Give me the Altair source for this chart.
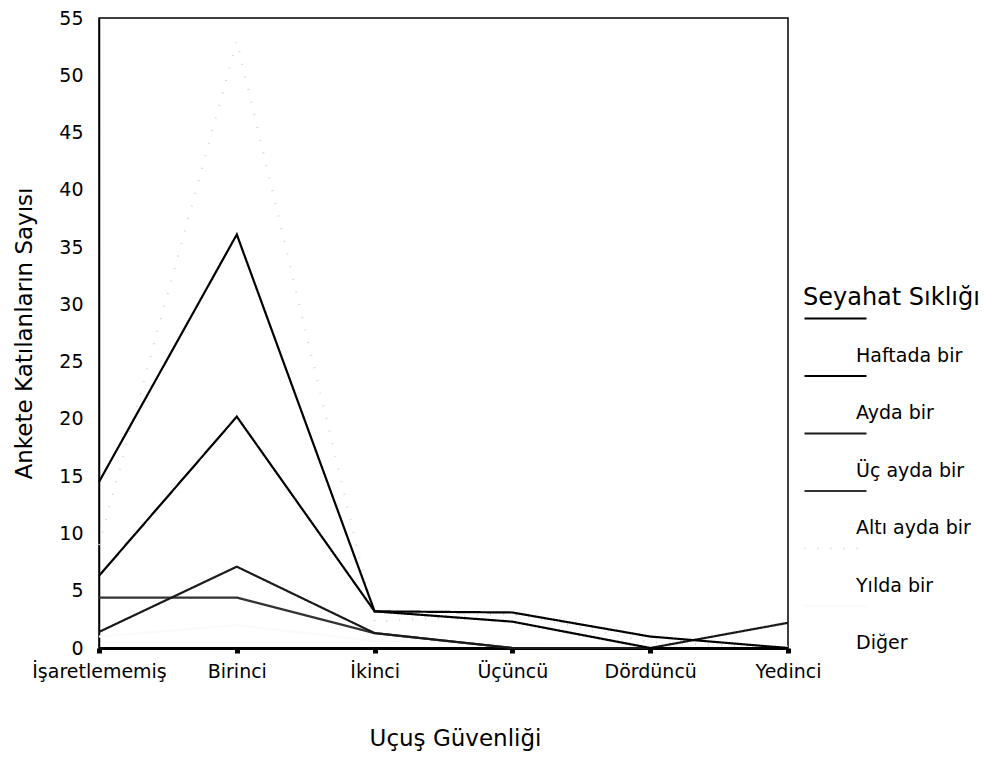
import altair as alt
import pandas as pd

categories = ["İşaretlememiş", "Birinci", "İkinci", "Üçüncü", "Dördüncü", "Yedinci"]
series_names = ["Haftada bir", "Ayda bir", "Üç ayda bir", "Altı ayda bir", "Yılda bir", "Diğer"]

haftada_bir = [6.3, 20.2, 3.2, 2.3, 0.0, 0.0]
ayda_bir = [14.5, 36.1, 3.2, 3.1, 1.0, 0.0]
uc_ayda_bir = [1.4, 7.1, 1.3, 0.0, 0.0, 2.2]
alti_ayda_bir = [4.4, 4.4, 1.3, 0.0, 0.0, 0.0]
yilda_bir = [9.0, 53.0, 2.3, 3.0, 0.5, 0.0]
diger = [1.0, 2.0, 0.6, 0.4, 0.2, 0.1]

series_values = {
    "Diğer": diger,
    "Yılda bir": yilda_bir,
    "Altı ayda bir": alti_ayda_bir,
    "Üç ayda bir": uc_ayda_bir,
    "Haftada bir": haftada_bir,
    "Ayda bir": ayda_bir,
}

line_colors = ["#000000", "#000000", "#1a1a1a", "#333333", "#d6d6d6", "#fafafa"]
line_dashes = [[1, 0], [1, 0], [1, 0], [1, 0], [1, 12], [1, 0]]
line_widths = [2.2, 2.2, 2.2, 1.3, 1.2, 1.0]
y_ticks = [0, 5, 10, 15, 20, 25, 30, 35, 40, 45, 50, 55]

rows = []
for name, vals in series_values.items():
    for cat, v in zip(categories, vals):
        rows.append({"Uçuş Güvenliği": cat, "Sayı": v, "Seyahat Sıklığı": name})
df = pd.DataFrame(rows)

FONT = "DejaVu Sans"

chart = alt.Chart(df).mark_line(strokeJoin="miter", strokeCap="butt").encode(
    x=alt.X(
        "Uçuş Güvenliği:N",
        sort=categories,
        scale=alt.Scale(type="point", padding=0, domain=categories),
        axis=alt.Axis(
            title="Uçuş Güvenliği",
            labelAngle=0,
            labelFont=FONT,
            labelFontSize=19,
            labelColor="#000",
            labelPadding=9,
            tickSize=5,
            tickWidth=5,
            tickColor="#000",
            domainColor="#000",
            domainWidth=3,
            titleFont=FONT,
            titleFontSize=23,
            titleFontWeight="normal",
            titleColor="#000",
            titlePadding=46,
            titleX=356,
            grid=False,
        ),
    ),
    y=alt.Y(
        "Sayı:Q",
        scale=alt.Scale(domain=[0, 55], nice=False),
        axis=alt.Axis(
            title="Ankete Katılanların Sayısı",
            values=y_ticks,
            ticks=False,
            labelFont=FONT,
            labelFontSize=19,
            labelColor="#000",
            labelPadding=16,
            domainColor="#000",
            domainWidth=1.5,
            titleFont=FONT,
            titleFontSize=23,
            titleFontWeight="normal",
            titleColor="#000",
            titlePadding=22,
            grid=False,
        ),
    ),
    color=alt.Color(
        "Seyahat Sıklığı:N",
        scale=alt.Scale(domain=series_names, range=line_colors),
        legend=alt.Legend(
            title="Seyahat Sıklığı",
            orient="none",
            legendX=704,
            legendY=268,
            symbolType="M-1,-1.48L1.48,-1.48",
            symbolSize=2500,
            symbolStrokeWidth=1.5,
            labelFont=FONT,
            labelFontSize=19,
            labelColor="#000",
            labelOffset=0,
            titleFont=FONT,
            titleFontSize=24,
            titleFontWeight="normal",
            titleColor="#000",
            titlePadding=19,
            rowPadding=5.5,
        ),
    ),
    strokeDash=alt.StrokeDash(
        "Seyahat Sıklığı:N",
        scale=alt.Scale(domain=series_names, range=line_dashes),
        legend=None,
    ),
    strokeWidth=alt.StrokeWidth(
        "Seyahat Sıklığı:N",
        scale=alt.Scale(domain=series_names, range=line_widths),
        legend=None,
    ),
).properties(
    width=689,
    height=630,
    autosize=alt.AutoSizeParams(type="none"),
    padding={"left": 91, "top": 10, "right": 209, "bottom": 117},
).configure(
    background="white"
).configure_view(
    stroke="#000", strokeWidth=1.5
)

chart.save("out.html", embed_options={"renderer": "svg", "actions": False})
